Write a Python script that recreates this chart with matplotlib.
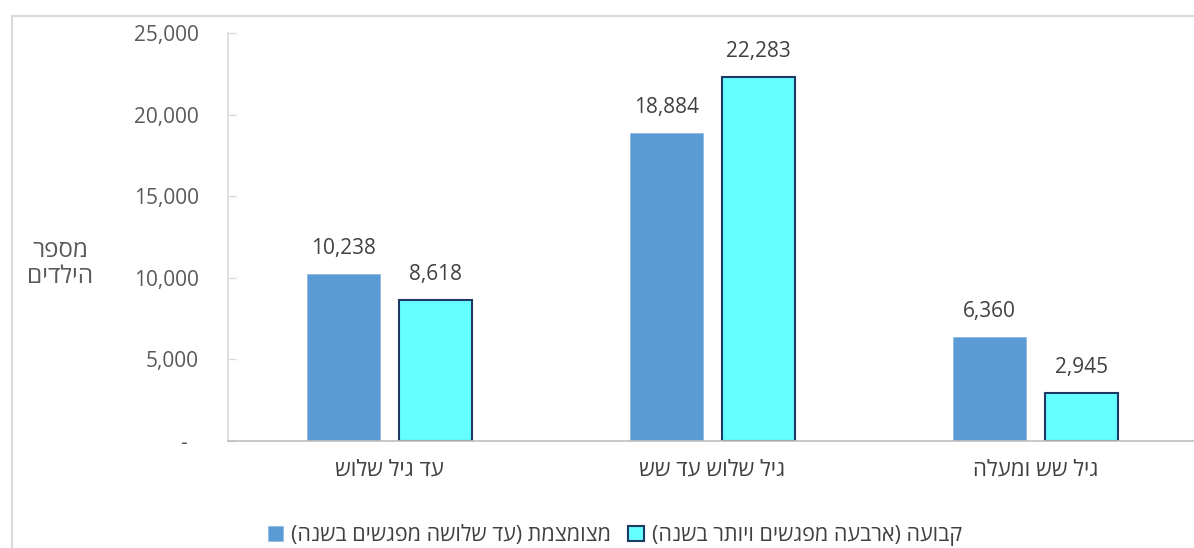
import numpy as np
import matplotlib
matplotlib.use('Agg')
import matplotlib.pyplot as plt
from matplotlib.patches import Rectangle, Patch
from matplotlib.ticker import FuncFormatter

plt.rcParams['font.family'] = ['Open Sans', 'Liberation Sans', 'DejaVu Sans']

# data
categories = ['עד גיל שלוש', 'גיל שלוש עד שש', 'גיל שש ומעלה']
series_names = ['מצומצמת (עד שלושה מפגשים בשנה)', 'קבועה (ארבעה מפגשים ויותר בשנה)']
limited = [10238, 18884, 6360]
regular = [8618, 22283, 2945]
y_ticks = [0, 5000, 10000, 15000, 20000, 25000]
y_label_lines = ['מספר', 'הילדים']


def rtl(s):
    # matplotlib has no bidi support, so put hebrew text in visual order
    mirror = {'(': ')', ')': '('}
    return ''.join(mirror.get(c, c) for c in reversed(s))


fig = plt.figure(figsize=(11.94, 5.48), dpi=100)
ax = fig.add_axes([228 / 1194, 1 - 441 / 548, 969 / 1194, 408 / 548])

# chart-area frame (clipped on right / bottom like the source)
fig.patches.append(Rectangle((12 / 1194, -0.1), 1.2, 1 - 16 / 548 + 0.1,
                             transform=fig.transFigure, fill=False,
                             edgecolor='#d9d9d9', linewidth=1.5))

x = np.arange(len(categories))
w = 0.226
off = 0.143
b1 = ax.bar(x - off, limited, w, color='#5b9bd5', edgecolor='#8fb8e2', linewidth=0.6)
b2 = ax.bar(x + off, regular, w, color='#66ffff', edgecolor='#203864', linewidth=1.5)

for bars, vals in [(b1, limited), (b2, regular)]:
    for r, v in zip(bars, vals):
        ax.annotate('{:,}'.format(v), (r.get_x() + r.get_width() / 2, r.get_height()),
                    xytext=(0, 11), textcoords='offset points',
                    ha='center', va='bottom', fontsize=15, color='#404040')

ax.set_xlim(-0.5, 2.5)
ax.set_ylim(0, 25000)
ax.set_yticks(y_ticks)
ax.yaxis.set_major_formatter(FuncFormatter(lambda v, p: '-  ' if v == 0 else '{:,.0f}'.format(v)))
ax.set_xticks(x)
ax.set_xticklabels([rtl(c) for c in categories])
ax.tick_params(axis='y', direction='in', length=6, width=1, color='#d9d9d9',
               pad=21, labelsize=15, labelcolor='#595959')
ax.tick_params(axis='x', length=0, pad=13, labelsize=16, labelcolor='#404040')

for s in ['top', 'right']:
    ax.spines[s].set_visible(False)
ax.spines['left'].set_color('#d9d9d9')
ax.spines['bottom'].set_color('#bfbfbf')
ax.spines['left'].set_linewidth(1.2)
ax.spines['bottom'].set_linewidth(1.2)

fig.text(60 / 1194, 1 - 264 / 548, '\n'.join(rtl(t) for t in y_label_lines),
         ha='center', va='center', fontsize=17.5, color='#595959', linespacing=1.1)

handles = [Patch(facecolor='#5b9bd5', edgecolor='#8fb8e2', linewidth=0.6),
           Patch(facecolor='#66ffff', edgecolor='#203864', linewidth=1.5)]
fig.legend(handles, [rtl(s) for s in series_names], loc='center', ncol=2,
           bbox_to_anchor=(0.515, 0.022), bbox_transform=fig.transFigure,
           frameon=False, fontsize=15.5, handlelength=0.7, handleheight=0.7,
           handletextpad=0.4, columnspacing=0.8, labelcolor='#404040',
           borderpad=0.1)

plt.savefig('out.png', dpi=100)
